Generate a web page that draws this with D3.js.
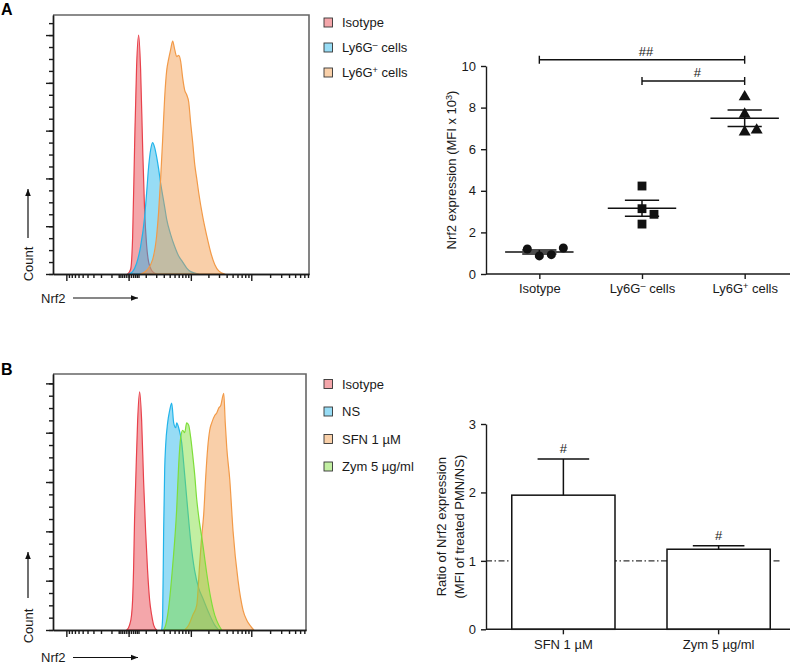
<!DOCTYPE html>
<html>
<head>
<meta charset="utf-8">
<script src="https://cdn.jsdelivr.net/npm/d3@7"></script>
<style>
  body { margin: 0; background: #fff; }
  svg { display: block; font-family: "Liberation Sans", Arial, Helvetica, sans-serif; }
  .ax path, .ax line { stroke: #1a1a1a; stroke-width: 1.4; }
  .ax text { font-size: 13px; fill: #1a1a1a; font-family: "Liberation Sans", Arial, sans-serif; }
</style>
</head>
<body>
<svg id="fig" width="797" height="664"></svg>
<script>
// ---------- data ----------
// flow histograms: [Nrf2 fluorescence, % of mode]
const isotypeA = [[-4,0],[9,2],[18,15],[28,53],[39,87],[51,100],[63,86],[77,53],[91,27],[107,12],[124,5],[161,1],[205,0]];
const ly6gNegA = [[0,0],[18,1],[39,4.5],[63,11.5],[91,23.7],[107,34],[124,45],[142,52],[161,55],[182,53],[205,49],[229,44],[255,38],[283,33],[314,28],[346,23],[419,16.5],[503,11.5],[600,7.5],[713,5],[843,2.5],[994,1],[1370,0]];
const ly6gPosA = [[63,0],[107,1.5],[161,6],[205,16],[229,26],[255,40],[283,56],[314,74],[346,85],[381,90],[419,94],[459,97.5],[503,94],[550,91],[600,91.5],[654,89],[713,82],[775,77],[843,75],[916,72],[994,63],[1078,55],[1168,46],[1266,40],[1370,34],[1604,24],[1875,16],[2188,9],[2550,4],[2970,1.3],[3727,0]];

const isotypeB = [[-8,0],[4,2],[13,6],[18,12],[23,25],[28,45],[34,60],[45,85],[57,96.6],[70,85],[84,60],[99,40],[115,24],[133,12],[152,6],[172,2],[205,0]];
const nsB = [[269,0],[283,5],[298,40],[314,65],[330,75],[363,84],[400,89],[439,92],[481,84],[526,82],[550,84],[600,82],[683,76],[775,63],[879,49],[994,36],[1168,24],[1370,17],[1604,13],[2026,7],[2550,2],[2970,0]];
const zymB = [[298,0],[330,2],[381,9],[459,26],[550,49],[600,67],[654,78],[713,81],[775,80],[843,84],[916,83],[994,78],[1078,71],[1168,63],[1266,53],[1370,46],[1604,35],[1875,23],[2188,13],[2550,6],[2970,2],[3328,0]];
const sfnB = [[775,0],[916,2],[1078,6],[1266,10],[1425,27],[1543,38],[1668,47],[1803,62],[1949,74],[2105,81],[2274,84],[2550,87],[2753,88],[2970,90],[3204,91],[3589,96],[3797,84],[4018,74],[4497,61],[5089,40],[6130,20],[7383,8],[8469,4],[9820,1.5],[10972,0]];

const histLabelsA = ["Isotype", "Ly6G^- cells", "Ly6G^+ cells"];
const histLabelsB = ["Isotype", "NS", "SFN 1 \u00b5M", "Zym 5 \u00b5g/ml"];
const histMajorX = [-1000, 0, 1000, 10000];
const histMajorY = [0, 20, 40, 60, 80, 100];

// scatter: Nrf2 MFI x 10^3
const scatterGroups = ["Isotype", "Ly6G^- cells", "Ly6G^+ cells"];
const isotypeMFI = [1.2, 0.87, 0.93, 1.25];
const ly6gNegMFI = [4.23, 3.14, 2.87, 2.4];
const ly6gPosMFI = [8.52, 7.68, 6.83, 6.92];
const scatterTicks = [0, 2, 4, 6, 8, 10];
const scatterSig = [
  {from: "Isotype", to: "Ly6G^+ cells", label: "##", level: 10.3},
  {from: "Ly6G^- cells", to: "Ly6G^+ cells", label: "#", level: 9.28}
];

// bars: ratio treated / NS
const ratioLabels = ["SFN 1 \u00b5M", "Zym 5 \u00b5g/ml"];
const ratioMean = [1.96, 1.17];
const ratioSEM = [0.53, 0.05];
const ratioSig = ["#", "#"];
const ratioTicks = [0, 1, 2, 3];

// ---------- helpers ----------
const colIso = "#e8414b", colNeg = "#22b4ea", colPos = "#f29a48", colZym = "#7ede3a";
const svg = d3.select("#fig");

svg.append("defs").append("marker")
  .attr("id", "arrowhead").attr("viewBox", "0 0 10 10")
  .attr("refX", 10).attr("refY", 5)
  .attr("markerWidth", 7).attr("markerHeight", 7)
  .attr("markerUnits", "userSpaceOnUse").attr("orient", "auto")
  .append("path").attr("d", "M0,1L10,5L0,9Z").attr("fill", "#111");

function rich(text, str, size = 13) {
  text.text(null);
  const parts = str.split(/\^(.)/);
  const shift = size * 0.33;
  let raised = false;
  parts.forEach((p, i) => {
    if (i % 2 === 1) {
      text.append("tspan").attr("dy", -shift).attr("font-size", size * 0.7).text(p === "-" ? "\u2013" : p);
      raised = true;
    } else if (p) {
      const t = text.append("tspan").text(p);
      if (raised) { t.attr("dy", shift); raised = false; }
    }
  });
}

function fadeColor(c, a) {
  const k = d3.rgb(c);
  return d3.rgb(255 - (255 - k.r) * a, 255 - (255 - k.g) * a, 255 - (255 - k.b) * a).formatHex();
}

function histPanel(id, box, xMax, yMax, layers, legendRows, countY, arrowY0, arrowY1, nrfY) {
  const g = svg.append("g");
  const x = d3.scaleSymlog().constant(115).domain([-1700, xMax]).range([box.left, box.right]);
  const y = d3.scaleLinear().domain([0, yMax]).range([box.bottom, box.top]);

  g.append("clipPath").attr("id", "clip" + id)
    .append("rect").attr("x", box.left).attr("y", box.top)
    .attr("width", box.right - box.left).attr("height", box.bottom - box.top);

  const area = d3.area().x(d => x(d[0])).y0(y(0)).y1(d => y(d[1])).curve(d3.curveMonotoneX);
  g.append("g").attr("clip-path", `url(#clip${id})`)
    .selectAll("path").data(layers).join("path")
    .attr("d", d => area(d.values))
    .attr("fill", d => d.color).attr("fill-opacity", 0.47)
    .attr("stroke", d => d.color).attr("stroke-width", 1.2).attr("stroke-linejoin", "round");

  // frame (top / right)
  g.append("path")
    .attr("d", `M${box.left},${box.top}H${box.right}V${box.bottom}`)
    .attr("fill", "none").attr("stroke", "#666").attr("stroke-width", 1.6);

  const xMinor = [].concat(
    d3.range(-900, -99, 100), d3.range(-50, 51, 10), d3.range(100, 901, 100),
    d3.range(2000, 9001, 1000), d3.range(20000, 90001, 10000)
  ).filter(v => v > x.domain()[0] && v < x.domain()[1]);
  const yMinor = d3.range(0, yMax, 5);

  const gx = g.append("g").attr("class", "ax").attr("transform", `translate(0,${box.bottom})`);
  gx.append("g").call(d3.axisBottom(x).tickValues(xMinor).tickSize(4).tickSizeOuter(0).tickFormat(""));
  gx.append("g").call(d3.axisBottom(x).tickValues(histMajorX).tickSize(7).tickSizeOuter(0).tickFormat(""));
  gx.selectAll("line").attr("stroke-width", 1.1);

  const gy = g.append("g").attr("class", "ax").attr("transform", `translate(${box.left},0)`);
  gy.append("g").call(d3.axisLeft(y).tickValues(yMinor).tickSize(4).tickSizeOuter(0).tickFormat(""));
  gy.append("g").call(d3.axisLeft(y).tickValues(histMajorY).tickSize(7).tickSizeOuter(0).tickFormat(""));
  gy.selectAll("line").attr("stroke-width", 1.1);

  // legend
  const lg = g.append("g").selectAll("g").data(layers).join("g")
    .attr("transform", (d, i) => `translate(324,${legendRows[i]})`);
  lg.append("rect").attr("x", 0).attr("y", -4.5).attr("width", 8.5).attr("height", 9)
    .attr("fill", d => fadeColor(d.color, 0.47)).attr("stroke", "#333").attr("stroke-width", 0.9);
  lg.append("text").attr("x", 18).attr("y", 4.6).attr("font-size", 13).attr("fill", "#1a1a1a")
    .each(function(d) { rich(d3.select(this), d.label); });

  // Count / Nrf2 labels
  g.append("text").attr("transform", `translate(33,${countY}) rotate(-90)`)
    .attr("text-anchor", "middle").attr("font-size", 13).attr("fill", "#1a1a1a").text("Count");
  g.append("line").attr("x1", 28).attr("x2", 28).attr("y1", arrowY0).attr("y2", arrowY1)
    .attr("stroke", "#111").attr("stroke-width", 1.2).attr("marker-end", "url(#arrowhead)");
  g.append("text").attr("x", 41).attr("y", nrfY).attr("font-size", 13).attr("fill", "#1a1a1a").text("Nrf2");
  g.append("line").attr("x1", 73).attr("x2", 138).attr("y1", nrfY - 4.5).attr("y2", nrfY - 4.5)
    .attr("stroke", "#111").attr("stroke-width", 1.2).attr("marker-end", "url(#arrowhead)");
}

histPanel("A", {left: 53, right: 309, top: 15, bottom: 274}, 83000, 108.4, [
  {label: histLabelsA[0], color: colIso, values: isotypeA},
  {label: histLabelsA[1], color: colNeg, values: ly6gNegA},
  {label: histLabelsA[2], color: colPos, values: ly6gPosA}
], [22.5, 47.5, 72.5], 264, 238, 189, 302.5);

histPanel("B", {left: 53, right: 306, top: 374, bottom: 630}, 74400, 103.8, [
  {label: histLabelsB[0], color: colIso, values: isotypeB},
  {label: histLabelsB[1], color: colNeg, values: nsB},
  {label: histLabelsB[2], color: colPos, values: sfnB},
  {label: histLabelsB[3], color: colZym, values: zymB}
], [384, 411.5, 439, 466.5], 626, 598, 552, 662);

// ---------- scatter (A right) ----------
{
  const left = 486, right = 790;
  const x = d3.scalePoint().domain(scatterGroups).range([488, 796]).padding(0.5);
  const y = d3.scaleLinear().domain([0, 10]).range([274, 66]);
  const g = svg.append("g");
  const groups = [isotypeMFI, ly6gNegMFI, ly6gPosMFI];
  const shapes = [d3.symbolCircle, d3.symbolSquare, d3.symbolTriangle];
  const sizes = [64, 78, 62];
  const markerPx = 9, dodge = 12;
  const half = x.step() / 3;

  groups.forEach((vals, gi) => {
    const cx = x(scatterGroups[gi]);
    // cluster points that overlap vertically, keep data order inside a cluster
    const order = vals.map((v, i) => i).sort((a, b) => vals[a] - vals[b]);
    const clusterOf = new Array(vals.length);
    let cid = 0;
    order.forEach((idx, k) => {
      if (k > 0 && Math.abs(y(vals[idx]) - y(vals[order[k - 1]])) >= markerPx) cid++;
      clusterOf[idx] = cid;
    });
    const offsets = new Array(vals.length);
    d3.groups(vals.map((v, i) => i), i => clusterOf[i]).forEach(([, members]) => {
      members.sort((a, b) => a - b);
      const base = Math.floor((members.length - 1) / 2);
      members.forEach((idx, j) => { offsets[idx] = (j - base) * dodge; });
    });

    const mean = d3.mean(vals);
    const sem = d3.deviation(vals) / Math.sqrt(vals.length);

    g.selectAll(null).data(vals).join("path")
      .attr("transform", (v, i) => `translate(${cx + offsets[i]},${y(v)})`)
      .attr("d", d3.symbol(shapes[gi], sizes[gi]))
      .attr("fill", "#111");

    const lines = [
      [cx - half, y(mean), cx + half, y(mean)],
      [cx - half / 2, y(mean + sem), cx + half / 2, y(mean + sem)],
      [cx - half / 2, y(mean - sem), cx + half / 2, y(mean - sem)],
      [cx, y(mean - sem), cx, y(mean + sem)]
    ];
    g.selectAll(null).data(lines).join("line")
      .attr("x1", d => d[0]).attr("y1", d => d[1]).attr("x2", d => d[2]).attr("y2", d => d[3])
      .attr("stroke", "#111").attr("stroke-width", 1.5);
  });

  g.append("g").attr("class", "ax").attr("transform", `translate(${left},0)`)
    .call(d3.axisLeft(y).tickValues(scatterTicks).tickSize(5).tickSizeOuter(0).tickPadding(5).tickFormat(d3.format("d")));
  const gx = g.append("g").attr("class", "ax").attr("transform", `translate(0,${y(0)})`)
    .call(d3.axisBottom(x).tickSize(5).tickSizeOuter(0).tickPadding(5));
  gx.select(".domain").attr("d", `M${left},0H${right}`);
  gx.selectAll(".tick text").each(function(d) { rich(d3.select(this), d); });

  g.append("text").attr("transform", `translate(456,${(y(0) + y(10)) / 2}) rotate(-90)`)
    .attr("text-anchor", "middle").attr("font-size", 13).attr("fill", "#1a1a1a")
    .each(function() { rich(d3.select(this), "Nrf2 expression (MFI x 10^3)"); });

  scatterSig.forEach(s => {
    const x1 = x(s.from), x2 = x(s.to), yy = y(s.level);
    g.append("path").attr("d", `M${x1},${yy - 4}V${yy + 4}M${x1},${yy}H${x2}M${x2},${yy - 4}V${yy + 4}`)
      .attr("fill", "none").attr("stroke", "#111").attr("stroke-width", 1.4);
    g.append("text").attr("x", (x1 + x2) / 2 + 4).attr("y", yy - 3.5)
      .attr("text-anchor", "middle").attr("font-size", 13).attr("fill", "#1a1a1a").text(s.label);
  });
}

// ---------- bars (B right) ----------
{
  const left = 486, right = 790;
  const x = d3.scaleBand().domain(ratioLabels).range([486, 796]).paddingInner(0.335).paddingOuter(0.166);
  const y = d3.scaleLinear().domain([0, 3]).range([629.3, 424]);
  const g = svg.append("g");
  const rows = ratioLabels.map((k, i) => ({k, mean: ratioMean[i], sem: ratioSEM[i], sig: ratioSig[i]}));

  g.append("line").attr("x1", left).attr("x2", right - 8).attr("y1", y(1)).attr("y2", y(1))
    .attr("stroke", "#333").attr("stroke-width", 1.2).attr("stroke-dasharray", "6 2.5 1.5 2.5");

  g.selectAll(null).data(rows).join("rect")
    .attr("x", d => x(d.k)).attr("y", d => y(d.mean))
    .attr("width", x.bandwidth()).attr("height", d => y(0) - y(d.mean))
    .attr("fill", "#fff").attr("stroke", "#111").attr("stroke-width", 1.5);

  rows.forEach(d => {
    const cx = x(d.k) + x.bandwidth() / 2, top = y(d.mean + d.sem), cap = x.bandwidth() / 4;
    g.append("path").attr("d", `M${cx},${y(d.mean)}V${top}M${cx - cap},${top}H${cx + cap}`)
      .attr("fill", "none").attr("stroke", "#111").attr("stroke-width", 1.5);
    g.append("text").attr("x", cx).attr("y", top - 6).attr("text-anchor", "middle")
      .attr("font-size", 13).attr("fill", "#1a1a1a").text(d.sig);
  });

  g.append("g").attr("class", "ax").attr("transform", `translate(${left},0)`)
    .call(d3.axisLeft(y).tickValues(ratioTicks).tickSize(5).tickSizeOuter(0).tickPadding(5).tickFormat(d3.format("d")));
  const gx = g.append("g").attr("class", "ax").attr("transform", `translate(0,${y(0)})`)
    .call(d3.axisBottom(x).tickSize(5).tickSizeOuter(0).tickPadding(5));
  gx.select(".domain").attr("d", `M${left},0H${right}`);

  const title = g.append("text").attr("transform", `translate(0,${(y(0) + y(3)) / 2}) rotate(-90)`)
    .attr("text-anchor", "middle").attr("font-size", 13).attr("fill", "#1a1a1a");
  title.append("tspan").attr("x", 0).attr("y", 446).text("Ratio of Nrf2 expression");
  title.append("tspan").attr("x", 0).attr("y", 464).text("(MFI of treated PMN/NS)");
}

// panel letters
svg.append("text").attr("x", 1).attr("y", 14.5).attr("font-size", 16).attr("font-weight", "bold").text("A");
svg.append("text").attr("x", 1).attr("y", 375).attr("font-size", 16).attr("font-weight", "bold").text("B");
</script>
</body>
</html>
